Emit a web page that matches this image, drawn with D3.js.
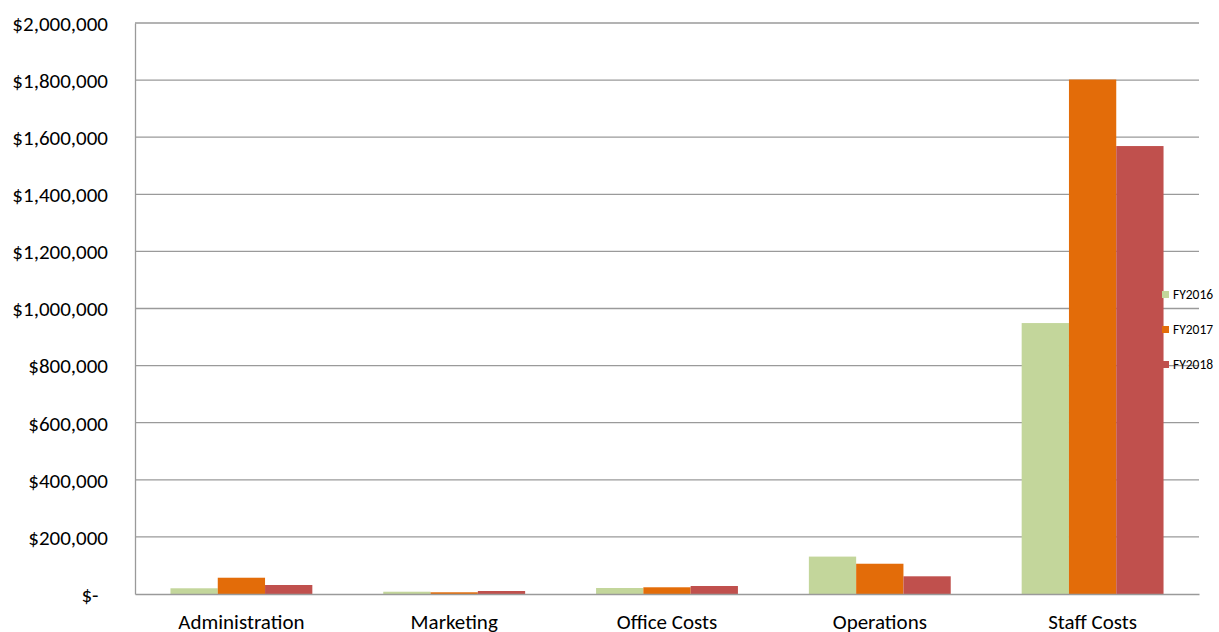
<!DOCTYPE html>
<html>
<head>
<meta charset="utf-8">
<script src="https://cdn.jsdelivr.net/npm/d3@7"></script>
<style>
  html, body { margin: 0; padding: 0; background: #fff; }
  svg { display: block; }
  text { font-family: Carlito, "Liberation Sans", Arial, sans-serif; fill: #000; }
</style>
</head>
<body>
<svg id="chart" width="1219" height="632"></svg>
<script>
const categories = ["Administration", "Marketing", "Office Costs", "Operations", "Staff Costs"];
const seriesNames = ["FY2016", "FY2017", "FY2018"];
const fy2016 = [20000, 8000, 21000, 131000, 949000];
const fy2017 = [57000, 6000, 23500, 106000, 1802000];
const fy2018 = [31500, 10500, 28000, 62000, 1569000];
const yTicks = [0, 200000, 400000, 600000, 800000, 1000000, 1200000, 1400000, 1600000, 1800000, 2000000];
const colors = ["#C3D69B", "#E36C09", "#C0504D"];

const seriesValues = [fy2016, fy2017, fy2018];
const svg = d3.select("#chart");
const margin = { top: 23, right: 20, bottom: 38, left: 135 };
const W = 1219, H = 632;
const iw = W - margin.left - margin.right;
const ih = H - margin.top - margin.bottom;

const g = svg.append("g").attr("transform", `translate(${margin.left},${margin.top})`);

const x0 = d3.scaleBand().domain(categories).range([0, iw]).paddingInner(0).paddingOuter(0);
// gap width 150% => group occupies 3/4.5 of band
const groupFrac = 3 / 4.5;
const x1 = d3.scaleBand().domain(seriesNames)
  .range([x0.bandwidth() * (1 - groupFrac) / 2, x0.bandwidth() * (1 + groupFrac) / 2]);
const y = d3.scaleLinear().domain([0, 2000000]).range([ih, 0]);

// Legend (drawn first, behind gridlines)
const legend = svg.append("g").attr("transform", `translate(1162, 294.5)`);
seriesNames.forEach((s, i) => {
  const lg = legend.append("g").attr("transform", `translate(0, ${i * 35})`);
  lg.append("rect").attr("x", 0).attr("y", -3.5).attr("width", 7).attr("height", 7).attr("fill", colors[i]);
  lg.append("text").attr("x", 11).attr("y", 0).attr("dy", "0.35em")
    .style("font-size", "13.5px").text(s);
});

// Gridlines
g.append("g").selectAll("line").data(yTicks.filter(d => d > 0)).join("line")
  .attr("x1", 0).attr("x2", iw)
  .attr("y1", d => y(d)).attr("y2", d => y(d))
  .attr("stroke", "#9a9a9a").attr("stroke-width", 1.3);

// Bars
const groups = g.append("g").selectAll("g").data(categories).join("g")
  .attr("transform", d => `translate(${x0(d)},0)`);
groups.selectAll("rect")
  .data((c, ci) => seriesNames.map((s, si) => ({ s, si, v: seriesValues[si][ci] })))
  .join("rect")
  .attr("x", d => x1(d.s))
  .attr("width", x1.bandwidth())
  .attr("y", d => y(d.v))
  .attr("height", d => y(0) - y(d.v))
  .attr("fill", d => colors[d.si]);

// Y axis
const fmt = d => d === 0 ? "$-\u00a0\u00a0" : "$" + d3.format(",")(d);
const yAxis = g.append("g").call(d3.axisLeft(y).tickValues(yTicks).tickFormat(fmt).tickSize(0).tickPadding(27));
yAxis.select(".domain").attr("stroke", "#9a9a9a").attr("stroke-width", 1.3);
yAxis.selectAll("text").style("font-size", "21px").attr("dy", "0.35em");

// X axis
const xAxis = g.append("g").attr("transform", `translate(0,${ih})`)
  .call(d3.axisBottom(x0).tickSize(0).tickPadding(20));
xAxis.select(".domain").attr("stroke", "#9a9a9a").attr("stroke-width", 1.3);
xAxis.selectAll("text").style("font-size", "21px");
</script>
</body>
</html>
